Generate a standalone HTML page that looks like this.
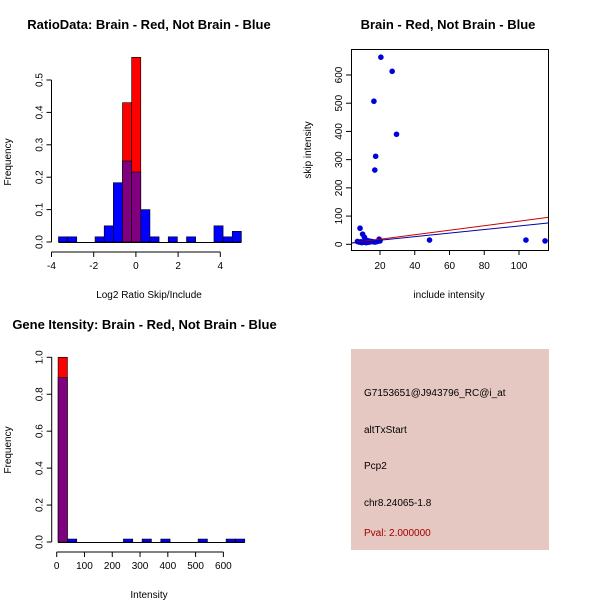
<!DOCTYPE html>
<html><head><meta charset="utf-8"><style>
body{margin:0;background:#fff}
svg{display:block;font-family:"Liberation Sans",sans-serif}
</style></head><body>
<svg id="s" width="600" height="600" viewBox="0 0 600 600">
<rect width="600" height="600" fill="#fff"/>
<text x="149" y="29" text-anchor="middle" font-size="13" font-weight="bold">RatioData: Brain - Red, Not Brain - Blue</text>
<text x="448" y="29" text-anchor="middle" font-size="13" font-weight="bold">Brain - Red, Not Brain - Blue</text>
<text x="144.5" y="329" text-anchor="middle" font-size="13" font-weight="bold">Gene Itensity: Brain - Red, Not Brain - Blue</text>
<text x="149" y="298" text-anchor="middle" font-size="10">Log2 Ratio Skip/Include</text>
<text transform="translate(11,162) rotate(-90)" text-anchor="middle" font-size="10">Frequency</text>
<text x="449" y="298" text-anchor="middle" font-size="10">include intensity</text>
<text transform="translate(311,150) rotate(-90)" text-anchor="middle" font-size="10">skip intensity</text>
<text x="149" y="598" text-anchor="middle" font-size="10">Intensity</text>
<text transform="translate(11,450) rotate(-90)" text-anchor="middle" font-size="10">Frequency</text>
<rect x="351" y="349" width="198" height="201" fill="#e6c8c2"/>
<g font-size="10">
<text x="364" y="396">G7153651@J943796_RC@i_at</text>
<text x="364" y="433">altTxStart</text>
<text x="364" y="469">Pcp2</text>
<text x="364" y="506">chr8.24065-1.8</text>
<text x="364" y="536" fill="#a00000">Pval: 2.000000</text>
</g>
</svg>
<script>
// Chart 1: ratio histogram
const ratioBinStart = -3.67, ratioBinWidth = 0.4335;
const ratioBlue = [0.016,0.016,0,0,0.016,0.05,0.183,0.25,0.216,0.1,0.016,0,0.016,0,0.016,0,0,0.05,0.016,0.033];
const ratioRed  = [0,0,0,0,0,0,0,0.43,0.57,0,0,0,0,0,0,0,0,0,0,0];
const ratioXTicks = [-4,-2,0,2,4];
const ratioYTicks = [0,0.1,0.2,0.3,0.4,0.5];
// Chart 2: scatter
const scatterX = [20.5,27,16.5,29.5,17.5,17,48.5,104,115,8.5,10,11,12,7,8,9,10,11,12,13,14,15,16,17,18,19,20,19.5,13.5,9.5];
const scatterY = [663,613,507,390,312,263,15,15,12,57,36,25,15,10,8,9,7,8,6,7,8,10,9,8,9,11,12,18,12,6];
const scatterXTicks = [20,40,60,80,100];
const scatterYTicks = [0,100,200,300,400,500,600];
const redLine = [0.8, 2];
const blueLine = [0.63, 2];
// Chart 3: intensity histogram
const intBinStart = 5, intBinWidth = 33.6;
const intBlue = [0.89,0.016,0,0,0,0,0,0.016,0,0.016,0,0.016,0,0,0,0.016,0,0,0.016,0.016];
const intRed  = [1.0,0,0,0,0,0,0,0,0,0,0,0,0,0,0,0,0,0,0,0];
const intXTicks = [0,100,200,300,400,500,600];
const intYTicks = [0,0.2,0.4,0.6,0.8,1.0];

const S=document.getElementById('s'), NS='http://www.w3.org/2000/svg';
function mk(t,a){const e=document.createElementNS(NS,t);for(const k in a)e.setAttribute(k,a[k]);S.appendChild(e);return e;}

function hist(o){
  const xs=v=>o.x0+(v-o.xa)*o.xk, ys=v=>o.y0-v*o.yk;
  for(let i=0;i<o.blue.length;i++){
    const a=o.start+i*o.w, b=a+o.w, bl=o.blue[i], rd=o.red[i];
    const hi=Math.max(bl,rd), lo=Math.min(bl,rd);
    if(hi>0){
      const r=mk('rect',{x:xs(a),y:ys(hi),width:xs(b)-xs(a),height:ys(0)-ys(hi),fill:rd>=bl?'#ff0000':'#0000ff',stroke:'#000','stroke-width':0.6});
      
      
    }
    if(lo>0){
      const r=mk('rect',{x:xs(a),y:ys(lo),width:xs(b)-xs(a),height:ys(0)-ys(lo),fill:'#800080',stroke:'#000','stroke-width':0.6});
      
      
    }
  }
  const x0=xs(o.start), x1=xs(o.start+o.blue.length*o.w);
  mk('line',{x1:x0,x2:x1,y1:ys(0)+0.5,y2:ys(0)+0.5,stroke:'#000'});
  const ay=o.y0+10;
  mk('line',{x1:xs(o.xt[0]),x2:xs(o.xt[o.xt.length-1]),y1:ay,y2:ay,stroke:'#000'});
  o.xt.forEach(t=>{mk('line',{x1:xs(t),x2:xs(t),y1:ay,y2:ay+5,stroke:'#000'});
    const e=mk('text',{x:xs(t),y:ay+17,'text-anchor':'middle','font-size':10});e.textContent=t;
    
    });
  const ax=o.x0-o.ygap;
  mk('line',{x1:ax,x2:ax,y1:ys(o.yt[0]),y2:ys(o.yt[o.yt.length-1]),stroke:'#000'});
  o.yt.forEach(t=>{mk('line',{x1:ax-5,x2:ax,y1:ys(t),y2:ys(t),stroke:'#000'});
    const e=mk('text',{transform:`translate(${ax-9},${ys(t)}) rotate(-90)`,'text-anchor':'middle','font-size':10});e.textContent=t.toFixed(1);
    
    });
}
hist({name:'ratio',blue:ratioBlue,red:ratioRed,start:ratioBinStart,w:ratioBinWidth,xa:-4,x0:51.5,xk:21.1,y0:242,yk:324,xt:ratioXTicks,yt:ratioYTicks,ygap:0});
hist({name:'intensity',blue:intBlue,red:intRed,start:intBinStart,w:intBinWidth,xa:0,x0:56.7,xk:0.2778,y0:542,yk:184.7,xt:intXTicks,yt:intYTicks,ygap:5});

// scatter
const sx=v=>380+(v-20)*1.7375, sy=v=>244.3-v*0.2822;
mk('rect',{x:351.5,y:49.5,width:197,height:201,fill:'none',stroke:'#000'});
const clip=mk('clipPath',{id:'c'});clip.appendChild((()=>{const r=document.createElementNS(NS,'rect');r.setAttribute('x',352);r.setAttribute('y',50);r.setAttribute('width',196);r.setAttribute('height',200);return r;})());
scatterXTicks.forEach(t=>{mk('line',{x1:sx(t),x2:sx(t),y1:250,y2:255,stroke:'#000'});
  const e=mk('text',{x:sx(t),y:269,'text-anchor':'middle','font-size':10});e.textContent=t;
  
  });
scatterYTicks.forEach(t=>{mk('line',{x1:346,x2:351,y1:sy(t),y2:sy(t),stroke:'#000'});
  const e=mk('text',{transform:`translate(${342},${sy(t)}) rotate(-90)`,'text-anchor':'middle','font-size':10});e.textContent=t;
  
  });
for(let i=0;i<scatterX.length;i++){
  const c=mk('circle',{cx:sx(scatterX[i]),cy:sy(scatterY[i]),r:2.8,fill:'#0000dd'});
  
  
}
[[redLine,'#cc0000','red-fit-line'],[blueLine,'#0000aa','blue-fit-line']].forEach(([l,c,n])=>{
  const e=mk('line',{x1:sx(3),y1:sy(l[0]*3+l[1]),x2:sx(118),y2:sy(l[0]*118+l[1]),stroke:c,'clip-path':'url(#c)'});
  
  
});
</script>
</body></html>
